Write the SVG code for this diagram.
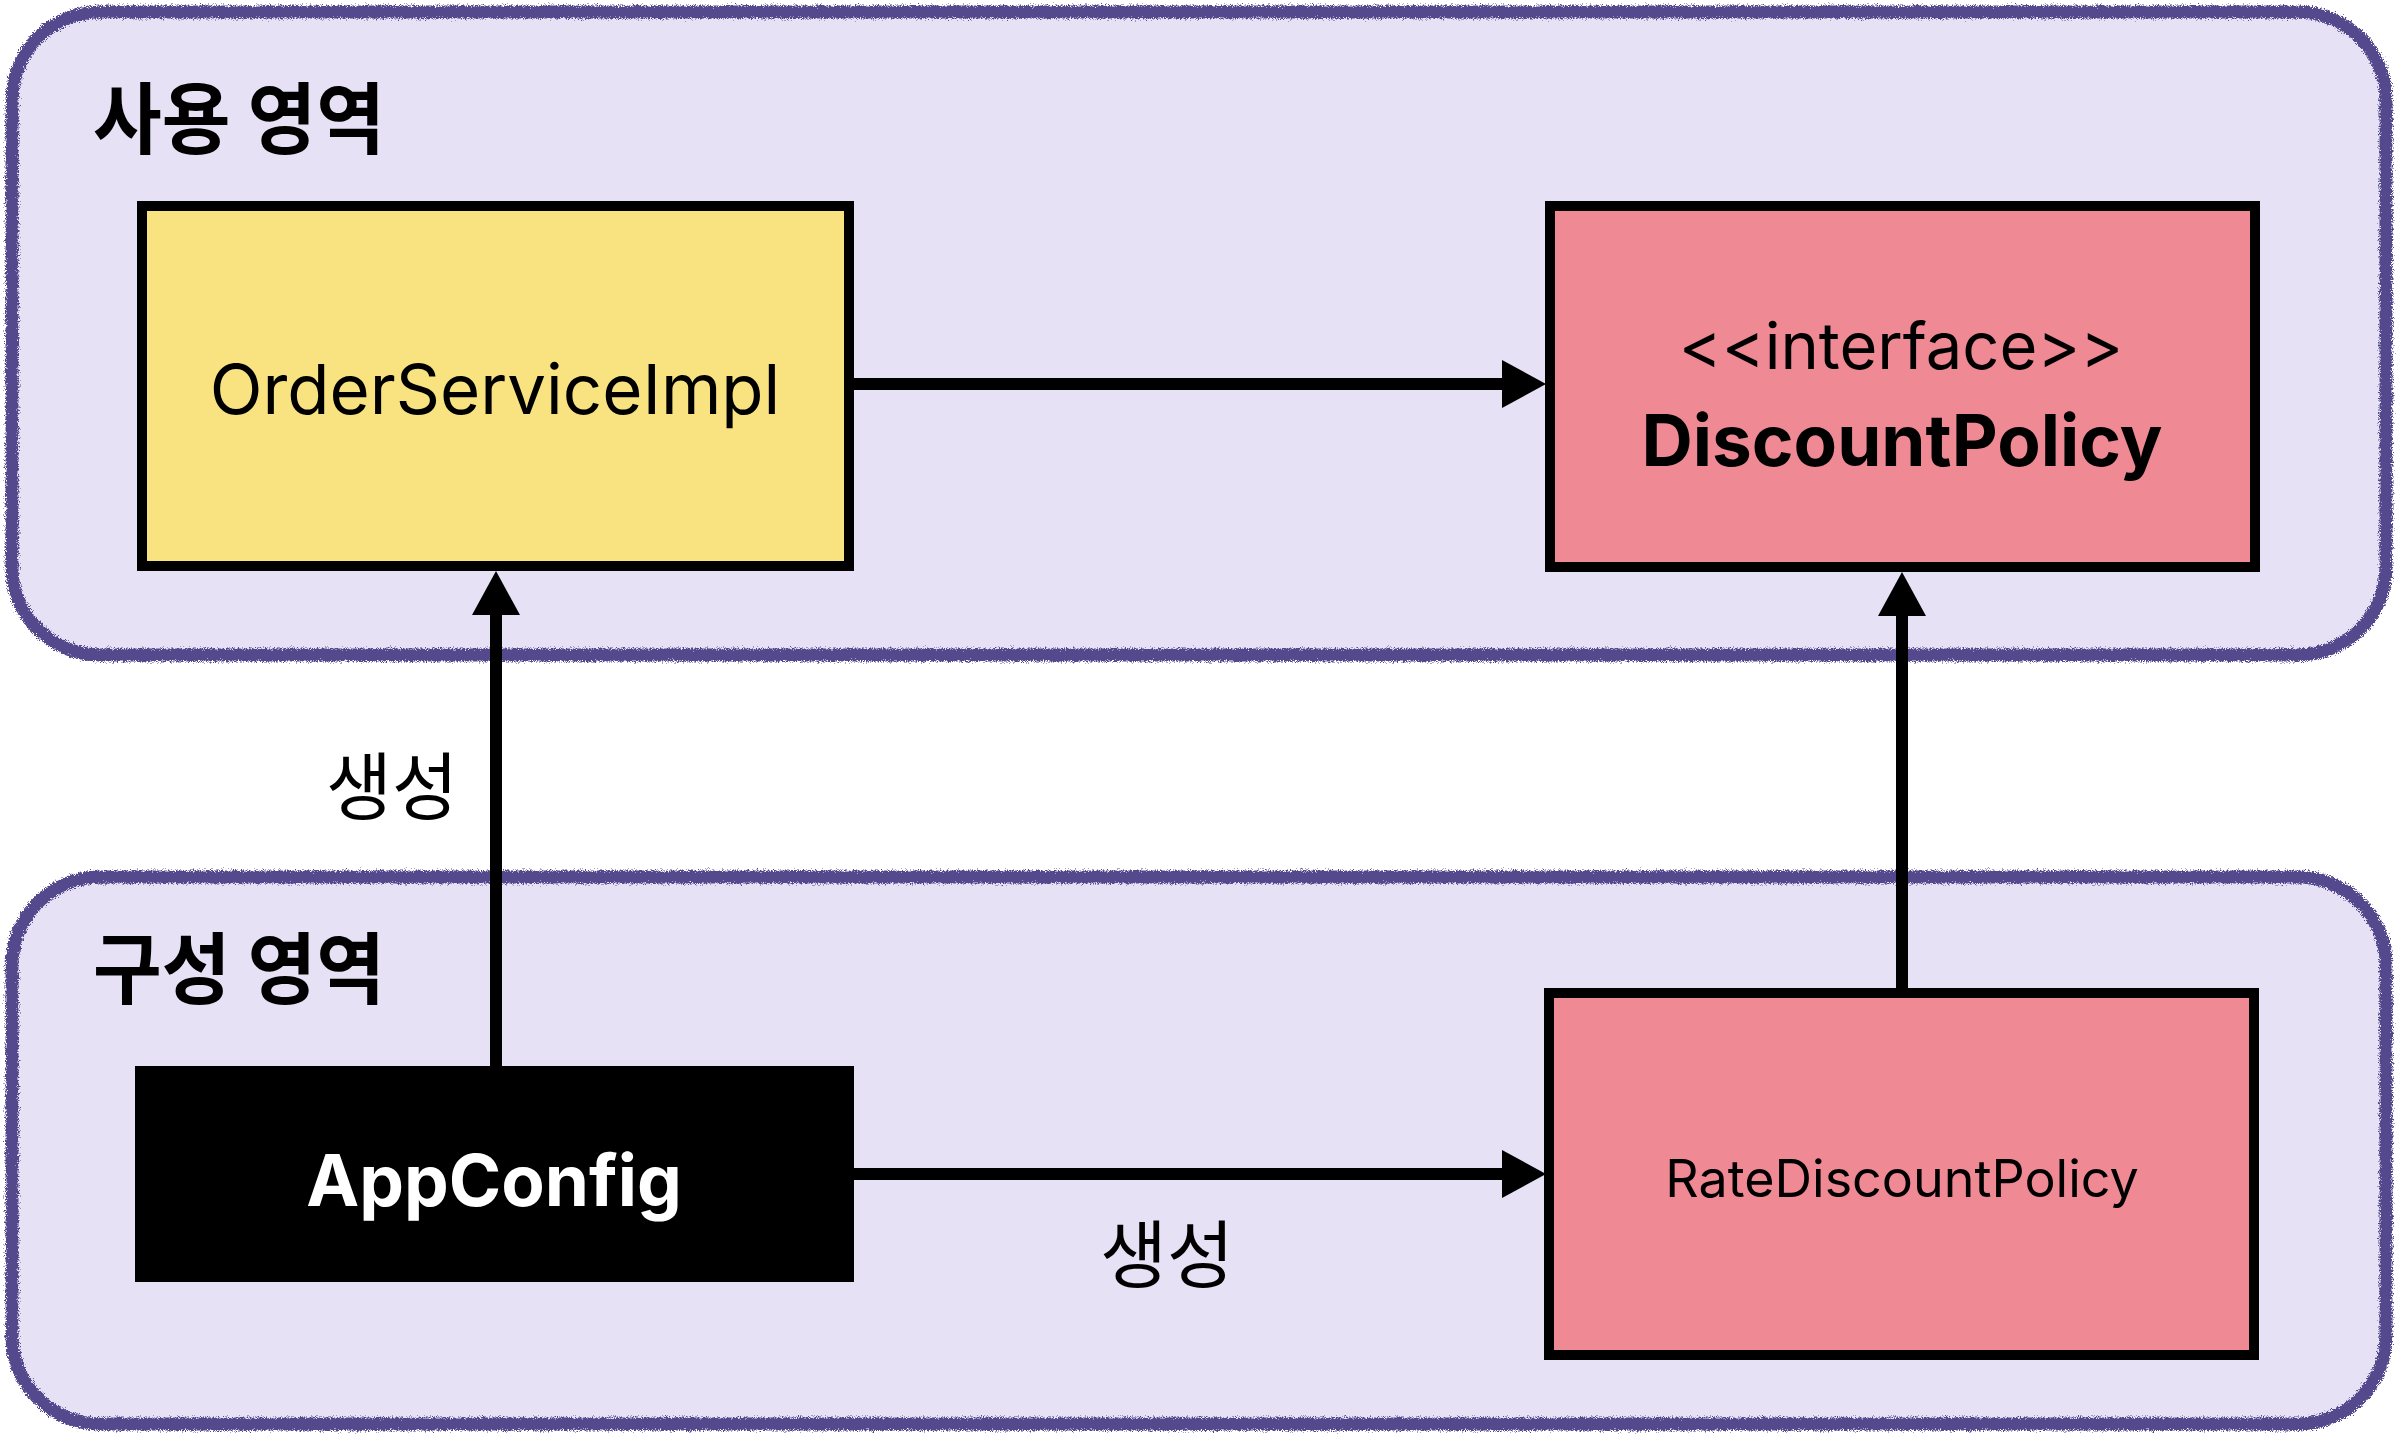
<svg xmlns="http://www.w3.org/2000/svg" width="2398" height="1438" viewBox="0 0 2398 1438">
<defs>
<style>
.area{fill:#E6E1F5;stroke:none}
.areaBorder{fill:none;stroke:#544A8E;stroke-width:13;filter:url(#rough)}
.box{stroke:#000;stroke-width:10}
.yellow{fill:#F9E381}
.pink{fill:#EF8994}
.lat{font-family:"Inter","Liberation Sans",sans-serif;fill:#000;text-anchor:middle}
.ko{font-family:"Noto Sans CJK KR","Noto Sans CJK SC",sans-serif;fill:#000}
.conn{stroke:#000;stroke-width:12;fill:none}
</style>
<filter id="rough" x="-2%" y="-3%" width="104%" height="106%">
<feTurbulence type="fractalNoise" baseFrequency="1.4" numOctaves="2" seed="4" result="n"/>
<feDisplacementMap in="SourceGraphic" in2="n" scale="8" xChannelSelector="R" yChannelSelector="G"/>
</filter>
<marker id="arrow" markerUnits="userSpaceOnUse" markerWidth="44" markerHeight="48" refX="0" refY="24" orient="auto" viewBox="0 0 44 48">
<path d="M0,0 L44,24 L0,48 Z" fill="#000"/>
</marker>
</defs>
<rect width="2398" height="1438" fill="#FFFFFF"/>

<g id="area-use">
<rect class="area" x="12" y="12" width="2374" height="643" rx="88"/>
<rect class="areaBorder" x="12" y="12" width="2374" height="643" rx="88"/>
<text class="ko" x="93" y="148" font-size="78" font-weight="700" textLength="292" lengthAdjust="spacingAndGlyphs">사용 영역</text>
</g>

<g id="area-config">
<rect class="area" x="12" y="877" width="2374" height="547" rx="88"/>
<rect class="areaBorder" x="12" y="877" width="2374" height="547" rx="88"/>
<text class="ko" x="93" y="998" font-size="78" font-weight="700" textLength="292" lengthAdjust="spacingAndGlyphs">구성 영역</text>
</g>

<g id="connectors">
<line class="conn" x1="854" y1="384" x2="1502" y2="384" marker-end="url(#arrow)"/>
<line class="conn" x1="496" y1="1066" x2="496" y2="615" marker-end="url(#arrow)"/>
<line class="conn" x1="1902" y1="988" x2="1902" y2="616" marker-end="url(#arrow)"/>
<line class="conn" x1="854" y1="1174" x2="1502" y2="1174" marker-end="url(#arrow)"/>
<text class="ko" x="392" y="814" font-size="74" text-anchor="middle" textLength="132" lengthAdjust="spacingAndGlyphs">생성</text>
<text class="ko" x="1167" y="1282" font-size="74" text-anchor="middle" textLength="134" lengthAdjust="spacingAndGlyphs">생성</text>
</g>

<g id="node-orderserviceimpl">
<rect class="box yellow" x="142" y="206" width="707" height="360"/>
<text class="lat" x="495" y="414" font-size="69">OrderServiceImpl</text>
</g>

<g id="node-discountpolicy">
<rect class="box pink" x="1550" y="206" width="705" height="361"/>
<text class="lat" x="1901" y="369" font-size="65">&lt;&lt;interface&gt;&gt;</text>
<text class="lat" x="1902" y="466" font-size="71" font-weight="700">DiscountPolicy</text>
</g>

<g id="node-appconfig">
<rect x="135" y="1066" width="719" height="216" fill="#000"/>
<text class="lat" x="494" y="1206" font-size="71" font-weight="700" style="fill:#FFFFFF">AppConfig</text>
</g>

<g id="node-ratediscountpolicy">
<rect class="box pink" x="1549" y="993" width="705" height="362"/>
<text class="lat" x="1902" y="1197" font-size="52">RateDiscountPolicy</text>
</g>
</svg>
